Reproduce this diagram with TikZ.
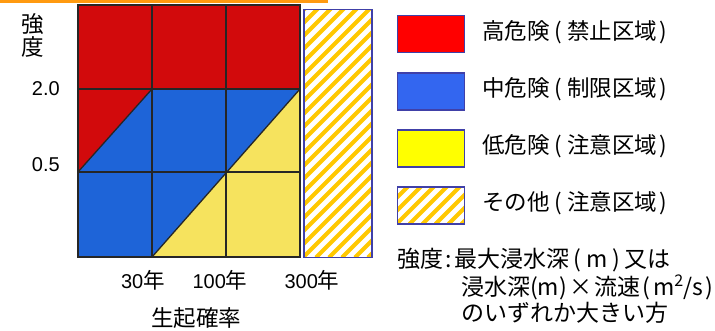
\documentclass[tikz,border=0pt]{standalone}
\usepackage{fontspec}
\setmainfont{Noto Sans CJK JP}
\newfontfamily\arialf{Liberation Sans}
\definecolor{gridred}{HTML}{D20A0C}
\definecolor{gridblue}{HTML}{1E64D8}
\definecolor{gridyel}{HTML}{F6E35E}
\definecolor{legred}{HTML}{FF0000}
\definecolor{legblue}{HTML}{3366F0}
\definecolor{legyel}{HTML}{FFFF00}
\definecolor{hatchcol}{HTML}{FFC800}
\definecolor{legborder}{HTML}{4040A8}
\definecolor{topline}{HTML}{FF9A10}
\newcommand\myLP{\hspace{0.22em}(\hspace{0.22em}}
\newcommand\myRP{\hspace{0.1em})}
\begin{document}
\begin{tikzpicture}[x=1pt,y=-1pt,
  gridline/.style={draw=black!85,line width=1.3pt},
  hatchfill/.style={fill=white,path picture={
     \foreach \s in {-300,-287,...,100}{
       \draw[hatchcol,line width=4.1pt]
         ([xshift=\s pt]path picture bounding box.south west) -- ++(400,-400);}}},
  legbox/.style={draw=legborder,line width=1.7pt,minimum width=67pt,minimum height=37pt,inner sep=0pt},
  legtext/.style={anchor=west,inner sep=0pt,font=\fontsize{22.5}{22.5}\selectfont},
  notetext/.style={anchor=west,inner sep=0pt,font=\fontsize{23}{23}\selectfont},
  axistext/.style={inner sep=0pt,font=\fontsize{22.5}{22.5}\selectfont},
  numtext/.style={inner sep=0pt,font=\arialf\fontsize{20}{20}\selectfont}
]
\useasboundingbox (0,0) rectangle (715,330);
% top orange rule
\coordinate (tl0) at (0,1.2);
\coordinate (tl1) at (328,1.2);
\draw[topline,line width=2.6pt] (tl0) -- (tl1);

% grid corner coordinates
\coordinate (a) at (78,5);
\coordinate (b) at (300,5);
\coordinate (c) at (300,89);
\coordinate (d) at (152,89);
\coordinate (e) at (78,172);
\coordinate (f) at (152,257);
\coordinate (g) at (78,257);
\coordinate (h) at (300,257);

\fill[gridred] (a) -- (b) -- (c) -- (d) -- (e) -- cycle;
\fill[gridblue] (e) -- (d) -- (c) -- (f) -- (g) -- cycle;
\fill[gridyel] (f) -- (c) -- (h) -- cycle;

\draw[gridline] (152,5) -- (152,257);
\draw[gridline] (226,5) -- (226,257);
\draw[gridline] (78,89) -- (300,89);
\draw[gridline] (78,172) -- (300,172);
\draw[gridline] (e) -- (d);
\draw[gridline] (f) -- (c);
\draw[gridline] (a) rectangle (h);

% hatched bar
\node[hatchfill,draw=legborder,line width=1.5pt,minimum width=68pt,minimum height=248pt,inner sep=0pt] (bar) at (338,133.5) {};

% axis labels
\node[axistext] (yl1) at (33,24) {強};
\node[axistext] (yl2) at (33,47) {度};
\node[numtext,anchor=east] (v20) at (60,89) {2.0};
\node[numtext,anchor=east] (v05) at (60,165) {0.5};
\node[inner sep=0pt] (x30) at (143,280) {\arialf\fontsize{20}{20}\selectfont 30\fontsize{21.5}{21.5}\selectfont\normalfont 年};
\node[inner sep=0pt] (x100) at (220,280) {\arialf\fontsize{20}{20}\selectfont 100\fontsize{21.5}{21.5}\selectfont\normalfont 年};
\node[inner sep=0pt] (x300) at (312,280) {\arialf\fontsize{20}{20}\selectfont 300\fontsize{21.5}{21.5}\selectfont\normalfont 年};
\node[axistext] (xl) at (196,318) {生起確率};

% legend
\node[legbox,fill=legred] (l1) at (431,34) {};
\node[legbox,fill=legblue] (l2) at (431,91.5) {};
\node[legbox,fill=legyel] (l3) at (431,148.5) {};
\node[legbox,hatchfill] (l4) at (431,205.5) {};
\node[legtext] (t1) at (482,32) {高危険\myLP 禁止区域\myRP};
\node[legtext] (t2) at (482,89.5) {中危険\myLP 制限区域\myRP};
\node[legtext] (t3) at (482,146.5) {低危険\myLP 注意区域\myRP};
\node[legtext] (t4) at (482,203.5) {その他\myLP 注意区域\myRP};

% note
\node[notetext] (n1) at (397,260) {強度\hspace{0.1em}:\hspace{0.1em}最大浸水深\hspace{0.2em}(\hspace{0.2em}m\hspace{0.2em})\hspace{0.2em}又は};
\node[notetext] (n2) at (461,287) {浸水深(m)\hspace{0.1em}×\hspace{0.1em}流速\hspace{0.1em}(\hspace{0.1em}m\textsuperscript{2}/s\hspace{0.1em})};
\node[notetext] (n3) at (461,313) {のいずれか大きい方};
\end{tikzpicture}
\end{document}
